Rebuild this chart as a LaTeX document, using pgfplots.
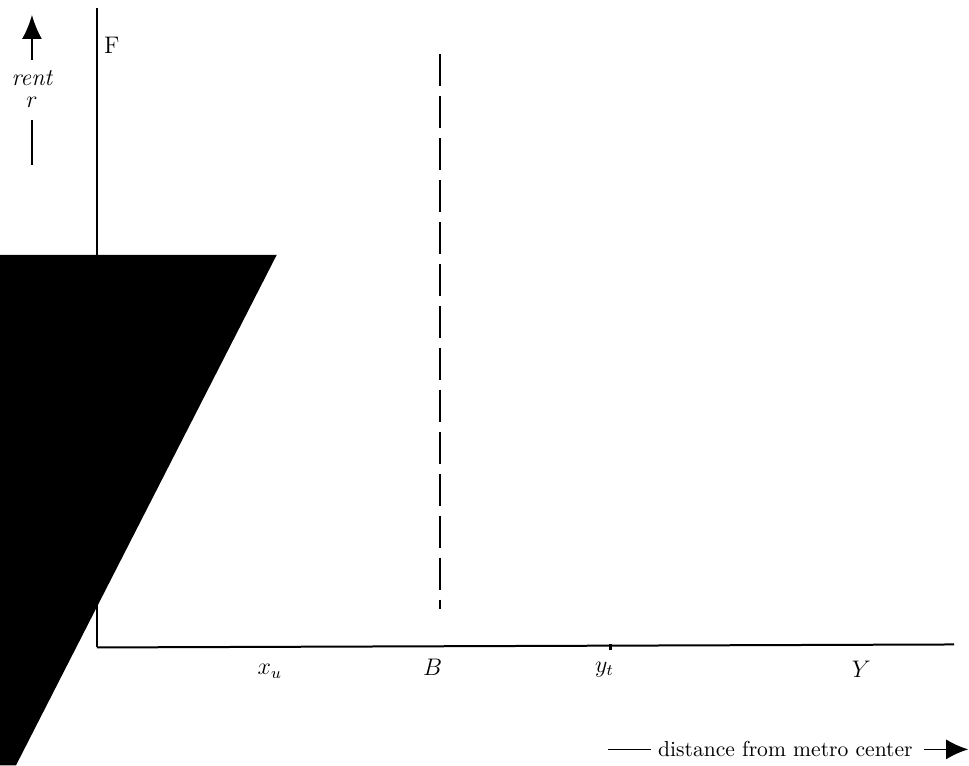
\documentclass[border=0pt]{standalone}
\usepackage{pgfplots}
\pgfplotsset{compat=1.18}
\usetikzlibrary{arrows.meta}
\begin{document}
\begin{tikzpicture}
\begin{axis}[
  width=484.5pt, height=383pt, scale only axis,
  xmin=0, xmax=969, ymin=0, ymax=766,
  hide axis, clip=false,
]
% invisible frame to fix the bounding box
\addplot[draw=none, forget plot] coordinates {(0,0) (969,766)};
% black region
\addplot[fill=black, draw=none] coordinates {(0,511) (277,511) (16,0) (0,0)} -- cycle;
% y axis
\addplot[black, line width=1pt] coordinates {(97,758) (97,118)};
% x axis
\addplot[black, line width=1pt] coordinates {(97,118) (955,121)};
% tick at y_t
\addplot[black, line width=1.2pt] coordinates {(611,121) (611,115)};
% dashed vertical line at B
\addplot[black, line width=1pt, dash pattern=on 16pt off 5pt] coordinates {(440,712) (440,156)};
% rent arrow
\addplot[black, line width=0.8pt, -{Latex[length=12pt,width=10pt]}] coordinates {(32,706) (32,751)};
\addplot[black, line width=0.8pt] coordinates {(32,646) (32,601)};
% distance arrow
\addplot[black, line width=0.8pt] coordinates {(608,16) (652,16)};
\addplot[black, line width=0.8pt, -{Latex[length=11pt,width=10pt]}] coordinates {(925,16) (969,16)};
% labels
\node at (axis cs:112,721) {\large$\mathrm{F}$};
\node[inner sep=0pt] at (axis cs:32,688) {\large\itshape rent};
\node[inner sep=0pt] at (axis cs:32,664) {\large$r$};
\node at (axis cs:270,94) {\large$x_u$};
\node at (axis cs:433,98) {\large$B$};
\node at (axis cs:605,96) {\large$y_t$};
\node at (axis cs:862,96) {\large$Y$};
\node at (axis cs:786,16) {\fontsize{10.8}{13}\selectfont distance from metro center};
\end{axis}
\end{tikzpicture}
\end{document}
